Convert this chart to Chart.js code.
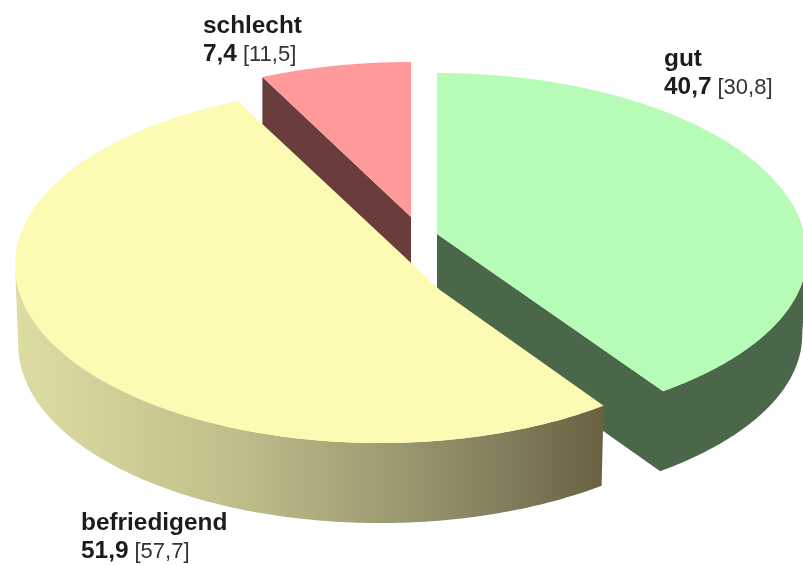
<!DOCTYPE html>
<html>
<head>
<meta charset="utf-8">
<script src="https://cdn.jsdelivr.net/npm/chart.js@4"></script>
<style>html,body{margin:0;padding:0;background:#fff}canvas{display:block;filter:blur(0.45px)}</style>
</head>
<body>
<canvas id="c" width="803" height="565"></canvas>
<script>
const categories = ['gut', 'befriedigend', 'schlecht'];
const values = [40.7, 51.9, 7.4];
const previousValues = ['30,8', '57,7', '11,5'];
const valueLabels = ['40,7', '51,9', '7,4'];

const topColors = ['#b6fcb6', '#fdfbb3', '#ff9a9a'];
const wallColors = ['#4a6849', null, '#6b3c3c'];
const paintOrder = [2, 0, 1];
const wallHeight = 80;
const sliceShapes = [
  {cx: 437, cy: 255, rx: 370, ryTop: 182, ryBot: 172, tipX: 437, tipY: 234, startFix: 0, endFix: -4.2, shrink: 0.987},
  {cx: 380, cy: 265, rx: 365, ryTop: 178, ryBot: 178, tipX: 440, tipY: 290, startFix: -4.3, endFix: 3.7, shrink: 0.991},
  {cx: 411, cy: 217, rx: 346, ryTop: 155, ryBot: 155, tipX: 411, tipY: 217, startFix: 1.2, endFix: 0, shrink: 1}
];
const labelSpots = [
  {x: 664, y1: 66, y2: 94},
  {x: 81, y1: 530, y2: 558},
  {x: 203, y1: 33, y2: 61}
];

class TiltedArc extends Chart.ArcElement {
  static id = 'tiltedArc';
  draw(ctx) {
    const i = this.sliceIndex, s = sliceShapes[i];
    const {startAngle, endAngle} = this.getProps(['startAngle', 'endAngle']);
    const a0 = startAngle + Math.PI / 2 + s.startFix * Math.PI / 180;
    const a1 = endAngle + Math.PI / 2 + s.endFix * Math.PI / 180;
    const pts = [[s.tipX, s.tipY]];
    const steps = 240;
    for (let k = 0; k <= steps; k++) {
      const a = a0 + (a1 - a0) * k / steps;
      const v = -Math.cos(a);
      pts.push([s.cx + s.rx * Math.sin(a), s.cy + (v < 0 ? s.ryTop : s.ryBot) * v]);
    }
    const low = pts.map(p => [s.cx + (p[0] - s.cx) * s.shrink, p[1] + wallHeight]);
    let wallFill = wallColors[i];
    if (!wallFill) {
      const g = ctx.createLinearGradient(15, 0, 605, 0);
      g.addColorStop(0, '#dcdca3');
      g.addColorStop(0.2, '#cfcd96');
      g.addColorStop(0.4, '#bdbb88');
      g.addColorStop(0.65, '#9b9970');
      g.addColorStop(0.85, '#7f7a58');
      g.addColorStop(1, '#68613f');
      wallFill = g;
    }
    ctx.save();
    ctx.fillStyle = wallFill;
    ctx.beginPath();
    for (let k = 0; k < pts.length; k++) {
      const n = (k + 1) % pts.length;
      if (pts[n][0] >= pts[k][0]) continue;
      // the wall is only built under edges that face the viewer; every quad runs the same way round
      ctx.moveTo(pts[k][0], pts[k][1]);
      ctx.lineTo(pts[n][0], pts[n][1]);
      ctx.lineTo(low[n][0], low[n][1]);
      ctx.lineTo(low[k][0], low[k][1]);
      ctx.closePath();
    }
    ctx.fill('nonzero');
    ctx.beginPath();
    pts.forEach((p, k) => k ? ctx.lineTo(p[0], p[1]) : ctx.moveTo(p[0], p[1]));
    ctx.closePath();
    ctx.fillStyle = this.options.backgroundColor;
    ctx.fill();
    ctx.restore();
  }
}

class TiltedPie extends Chart.PieController {
  static id = 'tiltedPie';
  static defaults = {dataElementType: 'tiltedArc'};
  draw() {
    const ctx = this.chart.ctx, data = this._cachedMeta.data;
    paintOrder.forEach(i => {
      data[i].sliceIndex = i;
      data[i].draw(ctx);
    });
  }
}
Chart.register(TiltedArc, TiltedPie);

const sliceLabels = {
  id: 'sliceLabels',
  afterDatasetsDraw(chart) {
    const ctx = chart.ctx;
    ctx.save();
    ctx.textBaseline = 'alphabetic';
    ctx.textAlign = 'left';
    categories.forEach((name, i) => {
      const p = labelSpots[i];
      ctx.fillStyle = '#1c1c1c';
      ctx.font = 'bold 24.4px "Liberation Sans"';
      ctx.fillText(name, p.x, p.y1);
      ctx.fillText(valueLabels[i], p.x, p.y2);
      const w = ctx.measureText(valueLabels[i]).width;
      ctx.fillStyle = '#333333';
      ctx.font = '22px "Liberation Sans"';
      ctx.fillText('[' + previousValues[i] + ']', p.x + w + 6, p.y2);
    });
    ctx.restore();
  }
};

new Chart(document.getElementById('c'), {
  type: 'tiltedPie',
  data: {
    labels: categories,
    datasets: [{data: values, backgroundColor: topColors, borderWidth: 0}]
  },
  options: {
    responsive: false,
    animation: false,
    rotation: 0,
    plugins: {legend: {display: false}, tooltip: {enabled: false}}
  },
  plugins: [sliceLabels]
});
</script>
</body>
</html>
